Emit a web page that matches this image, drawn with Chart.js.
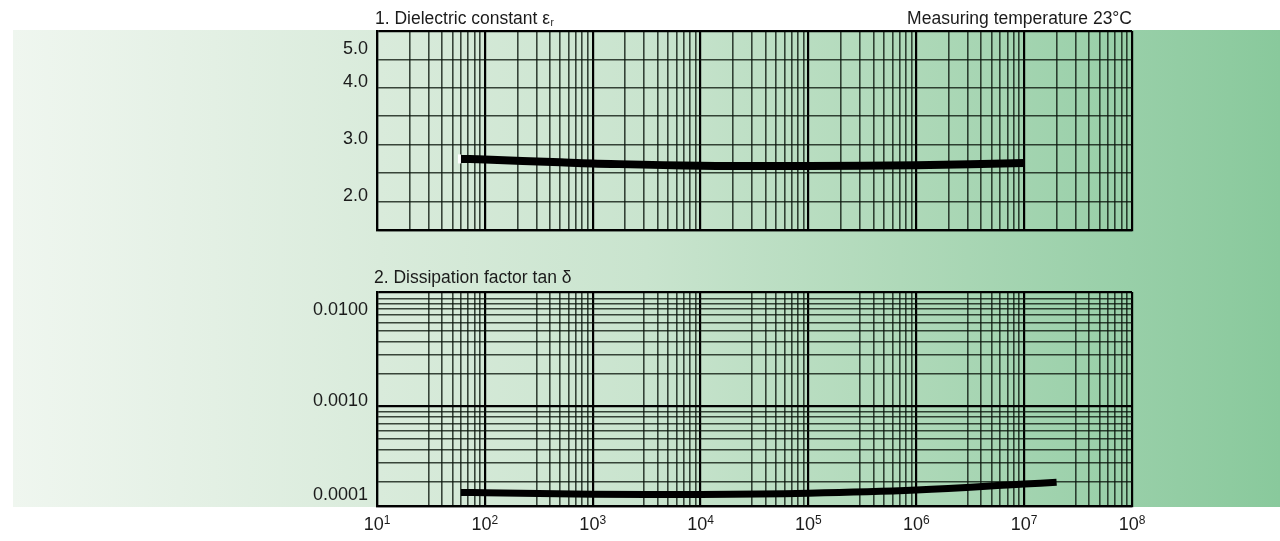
<!DOCTYPE html>
<html>
<head>
<meta charset="utf-8">
<script src="https://cdn.jsdelivr.net/npm/chart.js@4.4.1/dist/chart.umd.min.js"></script>
<style>
  html, body { margin: 0; padding: 0; width: 1280px; height: 541px; overflow: hidden; background: #ffffff; }
  #band {
    position: absolute; left: 13px; top: 30px; width: 1267px; height: 477px;
    background: linear-gradient(to right,
      #eff6ef 0%, #d9ebdb 29%, #c9e4ce 50%, #afd9b9 70%, #98cfa8 88%, #89c99c 100%);
  }
  canvas { position: absolute; left: 0; }
  #dielectric { top: 0; }
  #dissipation { top: 250px; }
</style>
</head>
<body>
<div id="band"></div>
<canvas id="dielectric" width="1280" height="250"></canvas>
<canvas id="dissipation" width="1280" height="291"></canvas>
<script>
// Frequency axis (Hz): decades 10^1 .. 10^8
const decadeExponents = [1, 2, 3, 4, 5, 6, 7, 8];
const gridMultipliersTop = [1, 2, 3, 4, 5, 6, 7, 8, 9];
const gridMultipliersBottom = [1, 3, 4, 5, 6, 7, 8, 9];

// 1. Dielectric constant vs frequency
const epsFreq = [60, 100, 500, 1000, 10000, 100000, 1000000, 10000000];
const epsValues = [2.75, 2.74, 2.69, 2.67, 2.63, 2.625, 2.64, 2.68];
const epsGridValues = [1.5, 2.0, 2.5, 3.0, 3.5, 4.0, 4.5, 5.0];
const epsLabelValues = [2.0, 3.0, 4.0, 5.0];
const epsLabelTexts = ['2.0', '3.0', '4.0', '5.0'];
const epsRange = [1.5, 5.0];

// 2. Dissipation factor vs frequency
const tanFreq = [60, 100, 1000, 10000, 100000, 1000000, 10000000, 20000000];
const tanValues = [1.61e-4, 1.60e-4, 1.55e-4, 1.54e-4, 1.58e-4, 1.69e-4, 1.92e-4, 2.0e-4];
const tanGridMultipliers = [1, 2, 3, 4, 5, 6, 7, 8, 9];
const tanGridExponents = [-4, -3, -2];
const tanLabelValues = [0.0001, 0.0010, 0.0100];
const tanLabelTexts = ['0.0001', '0.0010', '0.0100'];
const tanRange = [1.205e-4, 0.01145];

const xRange = [10, 1e8];

const FONT = '"Liberation Sans", Arial, sans-serif';
const INK = '#1b1b1b';

function logTicks(exps, mults, lo, hi) {
  const out = [];
  exps.forEach(e => mults.forEach(m => {
    const v = m * Math.pow(10, e);
    if (v >= lo * 0.999 && v <= hi * 1.001) out.push(v);
  }));
  out.push(lo, hi);
  return Array.from(new Set(out.map(v => +v.toPrecision(6)))).sort((a, b) => a - b);
}

function isDecade(v) {
  const l = Math.log10(v);
  return Math.abs(l - Math.round(l)) < 1e-6;
}

function gridStyle(isMajor) {
  return {
    color: ctx => isMajor(ctx.tick.value) ? '#000000' : 'rgba(10,20,12,0.78)',
    lineWidth: ctx => isMajor(ctx.tick.value) ? 2.2 : 1.6,
    drawTicks: false
  };
}

function drawYLabels(chart, values, texts) {
  const { ctx, chartArea } = chart;
  const y = chart.scales.y;
  const cap = 13;
  ctx.save();
  ctx.font = '18px ' + FONT;
  ctx.fillStyle = INK;
  ctx.textAlign = 'right';
  ctx.textBaseline = 'alphabetic';
  values.forEach((v, i) => {
    let base = y.getPixelForValue(v) - 1;
    base = Math.max(base, chartArea.top + 10 + cap);
    base = Math.min(base, chartArea.bottom - 6);
    ctx.fillText(texts[i], chartArea.left - 9, base);
  });
  ctx.restore();
}

function drawPowerLabels(chart) {
  const { ctx, chartArea } = chart;
  const x = chart.scales.x;
  const base = chartArea.bottom + 24;
  ctx.save();
  ctx.fillStyle = INK;
  ctx.textBaseline = 'alphabetic';
  ctx.textAlign = 'left';
  decadeExponents.forEach(e => {
    const px = x.getPixelForValue(Math.pow(10, e));
    ctx.font = '18px ' + FONT;
    const w1 = ctx.measureText('10').width;
    ctx.font = '12px ' + FONT;
    const w2 = ctx.measureText(String(e)).width;
    const start = px - (w1 + w2) / 2;
    ctx.font = '18px ' + FONT;
    ctx.fillText('10', start, base);
    ctx.font = '12px ' + FONT;
    ctx.fillText(String(e), start + w1, base - 6.5);
  });
  ctx.restore();
}

// small white tab at the start of the permittivity curve
function drawCurveTab(chart) {
  const meta = chart.getDatasetMeta(0);
  const p = meta.data[0];
  if (!p) return;
  const { ctx } = chart;
  ctx.save();
  ctx.fillStyle = '#ffffff';
  ctx.fillRect(p.x - 3, p.y - 4.5, 3, 9);
  ctx.restore();
}

const dielectricText = {
  id: 'dielectricText',
  afterDraw(chart) {
    const { ctx, chartArea } = chart;
    drawCurveTab(chart);
    ctx.save();
    ctx.fillStyle = INK;
    ctx.textBaseline = 'alphabetic';
    ctx.font = '17.5px ' + FONT;
    ctx.textAlign = 'left';
    const t = '1. Dielectric constant \u03b5';
    ctx.fillText(t, chartArea.left - 2, chartArea.top - 7);
    const w = ctx.measureText(t).width;
    ctx.font = '10px ' + FONT;
    ctx.fillText('r', chartArea.left - 2 + w + 0.5, chartArea.top - 5);
    ctx.font = '17.5px ' + FONT;
    ctx.textAlign = 'right';
    ctx.fillText('Measuring temperature 23\u00b0C', chartArea.right, chartArea.top - 7.5);
    ctx.restore();
    drawYLabels(chart, epsLabelValues, epsLabelTexts);
  }
};

const dissipationText = {
  id: 'dissipationText',
  afterDraw(chart) {
    const { ctx, chartArea } = chart;
    ctx.save();
    ctx.fillStyle = INK;
    ctx.textBaseline = 'alphabetic';
    ctx.font = '17.5px ' + FONT;
    ctx.textAlign = 'left';
    ctx.fillText('2. Dissipation factor tan \u03b4', chartArea.left - 3, chartArea.top - 9);
    ctx.restore();
    drawYLabels(chart, tanLabelValues, tanLabelTexts);
    drawPowerLabels(chart);
  }
};

const commonOptions = {
  responsive: false,
  animation: false,
  events: [],
  plugins: { legend: { display: false }, tooltip: { enabled: false }, title: { display: false } }
};

const xTopTicks = logTicks(decadeExponents, gridMultipliersTop, xRange[0], xRange[1]);
const xBottomTicks = logTicks(decadeExponents, gridMultipliersBottom, xRange[0], xRange[1]);
const tanTicks = logTicks(tanGridExponents, tanGridMultipliers, tanRange[0], tanRange[1]);

function xScale(tickValues, height) {
  return {
    type: 'logarithmic',
    min: xRange[0],
    max: xRange[1],
    ticks: { display: false, autoSkip: false },
    afterBuildTicks: s => { s.ticks = tickValues.map(v => ({ value: v })); },
    afterFit: s => { s.height = height; },
    border: { display: true, color: '#000000', width: 2.2 },
    grid: gridStyle(v => isDecade(v) || v >= xRange[1] * 0.999)
  };
}

new Chart(document.getElementById('dielectric'), {
  type: 'line',
  data: {
    datasets: [{
      data: epsFreq.map((f, i) => ({ x: f, y: epsValues[i] })),
      borderColor: '#000000',
      borderWidth: 8,
      borderCapStyle: 'butt',
      pointRadius: 0,
      tension: 0.4,
      fill: false
    }]
  },
  options: Object.assign({}, commonOptions, {
    layout: { padding: { top: 31, right: 148, left: 0, bottom: 0 }, autoPadding: false },
    scales: {
      x: xScale(xTopTicks, 20),
      y: {
        type: 'linear',
        min: epsRange[0],
        max: epsRange[1],
        ticks: { display: false, autoSkip: false },
        afterBuildTicks: s => { s.ticks = epsGridValues.map(v => ({ value: v })); },
        afterFit: s => { s.width = 377; },
        border: { display: true, color: '#000000', width: 2.2 },
        grid: gridStyle(v => v >= epsRange[1] - 1e-9 || v <= epsRange[0] + 1e-9)
      }
    }
  }),
  plugins: [dielectricText]
});

new Chart(document.getElementById('dissipation'), {
  type: 'line',
  data: {
    datasets: [{
      data: tanFreq.map((f, i) => ({ x: f, y: tanValues[i] })),
      borderColor: '#000000',
      borderWidth: 7,
      borderCapStyle: 'butt',
      pointRadius: 0,
      tension: 0.4,
      fill: false
    }]
  },
  options: Object.assign({}, commonOptions, {
    layout: { padding: { top: 42, right: 148, left: 0, bottom: 0 }, autoPadding: false },
    scales: {
      x: xScale(xBottomTicks, 35),
      y: {
        type: 'logarithmic',
        min: tanRange[0],
        max: tanRange[1],
        ticks: { display: false, autoSkip: false },
        afterBuildTicks: s => { s.ticks = tanTicks.map(v => ({ value: v })); },
        afterFit: s => { s.width = 377; },
        border: { display: true, color: '#000000', width: 2.2 },
        grid: gridStyle(v => Math.abs(v - 0.001) < 1e-9 || v >= tanRange[1] * 0.999 || v <= tanRange[0] * 1.001)
      }
    }
  }),
  plugins: [dissipationText]
});
</script>
</body>
</html>
